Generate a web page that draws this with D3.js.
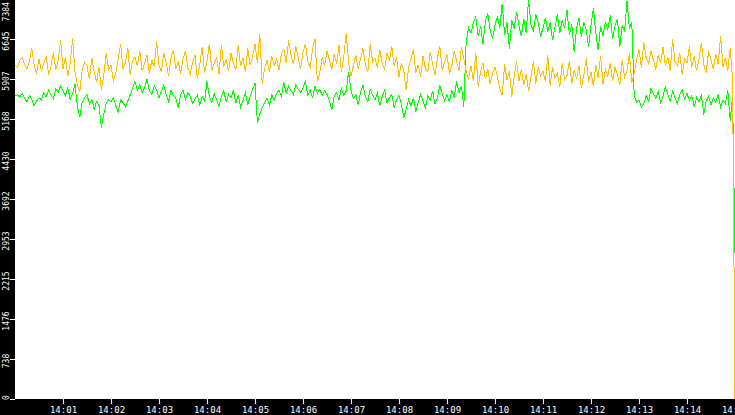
<!DOCTYPE html>
<html>
<head>
<meta charset="utf-8">
<script src="https://cdn.jsdelivr.net/npm/d3@7/dist/d3.min.js"></script>
<style>
  html, body { margin: 0; padding: 0; background: #000; }
  svg { display: block; }
</style>
</head>
<body>
<svg id="chart" width="735" height="415"></svg>
<script>
// ---- data ----
const startTime = "14:00:00";
const endTime = "14:15:00";
const stepSeconds = 3;

const seriesNames = ["green", "orange"];

const orangeValues = [
  6160, 6120, 6250, 6300, 6180, 6090, 6230, 6480, 6150, 6010,
  6280, 6050, 6190, 6330, 5990, 6140, 6400, 6080, 6250, 6620,
  6100, 6310, 5970, 6180, 6660, 6040, 5800, 5670, 6090, 6220,
  6150, 5900, 6300, 6040, 5850, 6120, 5710, 5980, 6390, 6080,
  6170, 5860, 6020, 6280, 6550, 6100, 6210, 6480, 5990, 6250,
  6310, 6140, 6420, 6050, 6200, 6350, 6000, 6260, 6130, 6600,
  6170, 6040, 6380, 6210, 5960, 6300, 6450, 6090, 6230, 6010,
  6270, 6430, 6110, 5990, 6220, 6350, 5900, 6180, 6500, 6020,
  6240, 6560, 6070, 6190, 6310, 6000, 6540, 6130, 6260, 6050,
  6380, 6200, 6080, 6530, 6150, 6290, 6030, 6470, 6170, 6320,
  6560, 6210, 6740, 5820, 6100, 6250, 6040, 6330, 6150, 6280,
  6070, 6390, 6460, 6200, 6620, 6350, 6180, 6510, 6290, 6090,
  6400, 6560, 6230, 6120, 6470, 6650, 5850, 6020, 6310, 6150,
  6420, 6260, 6080, 6370, 6190, 6530, 6040, 6320, 6760, 6210,
  5960, 6150, 6350, 6090, 6280, 6470, 6170, 6030, 6560, 6230,
  6300, 6120, 6450, 6200, 6080, 6380, 6250, 6510, 6140, 6310,
  5940, 6200, 6060, 5700, 6120, 6280, 6460, 6020, 6170, 5950,
  6330, 6100, 6040, 6410, 6190, 5980, 6280, 6520, 6070, 6220,
  6360, 6010, 6150, 6430, 6240, 6060, 6490, 6280, 6050, 5920,
  6150, 5870, 6380, 5760, 6040, 6210, 5900, 6090, 5810, 6020,
  6120, 5950, 5730, 5610, 6180, 5890, 6050, 5580, 5960, 6230,
  5870, 6090, 5790, 6000, 5680, 5940, 6240, 5820, 6120, 5960,
  6050, 5850, 6350, 5780, 6130, 5920, 6010, 5760, 6200, 5890,
  5970, 6240, 5820, 6080, 5910, 6150, 5740, 5980, 6290, 5860,
  6040, 5780, 6170, 5930, 6330, 5820, 6080, 5960, 6210, 5870,
  6120, 5990, 5800, 6260, 5940, 6050, 6390, 5830, 6010, 6270,
  6450, 6120, 6580, 6300, 6190, 6420, 6260, 6080, 6350, 6200,
  6500, 6140, 6310, 6060, 6640, 6230, 6150, 6380, 5990, 6280,
  6200, 6510, 6120, 6330, 6050, 6270, 6590, 6170, 6020, 6420,
  6260, 6090, 6370, 6180, 6700, 6130, 6300, 6050, 6480, 5900,
  0
];

const greenValues = [
  5590, 5620, 5570, 5640, 5550, 5480, 5600, 5530, 5410, 5500,
  5560, 5520, 5650, 5580, 5700, 5610, 5540, 5720, 5660, 5780,
  5690, 5600, 5750, 5530, 5640, 5810, 5390, 5210, 5480, 5560,
  5620, 5450, 5530, 5350, 5490, 5420, 5010, 5260, 5460, 5530,
  5480, 5560, 5410, 5300, 5520, 5470, 5390, 5500, 5610, 5740,
  5860, 5700, 5810, 5650, 5760, 5900, 5690, 5620, 5780, 5710,
  5550, 5680, 5800, 5620, 5490, 5710, 5600, 5560, 5370, 5620,
  5700, 5520, 5650, 5590, 5460, 5540, 5610, 5430, 5580, 5500,
  5860, 5580, 5470, 5640, 5520, 5400, 5590, 5690, 5480, 5630,
  5550, 5700, 5460, 5610, 5390, 5520, 5650, 5440, 5580, 5720,
  5830, 5100, 5260, 5380, 5470, 5550, 5420, 5610, 5520, 5640,
  5700, 5590, 5850, 5650, 5780, 5690, 5620, 5800, 5720, 5660,
  5740, 5860, 5610, 5700, 5550, 5780, 5650, 5720, 5600, 5690,
  5620, 5500, 5340, 5590, 5660, 5520, 5730, 5610, 5680, 6040,
  5700, 5550, 5620, 5430, 5660, 5800, 5580, 5490, 5720, 5610,
  5520, 5650, 5410, 5580, 5700, 5470, 5560, 5620, 5380, 5530,
  5600, 5440, 5190, 5350, 5520, 5410, 5560, 5300, 5470, 5620,
  5500, 5380, 5600, 5520, 5680, 5450, 5560, 5790, 5640, 5500,
  5620, 5480, 5700, 5560, 5860, 5650, 5780, 5400, 6600, 6850,
  6750, 6950, 7050, 6700, 6880, 6550, 6980, 7120, 6800, 6650,
  6900, 7060, 6850, 7300, 6720, 6950, 6470, 7000, 6830, 7150,
  6880, 6700, 7020, 6760, 7384, 6900, 6800, 7100, 6950, 6690,
  6850, 7040, 6780, 6950, 6620, 6870, 7100, 6760, 6990, 6850,
  7180, 6720, 6920, 6400, 6850, 7030, 6680, 6950, 6820, 6500,
  6900, 7220, 6760, 6440, 6880, 6700, 6960, 6820, 7080, 6650,
  6880, 7020, 6500, 6900, 6780, 7350, 6850, 6950, 5600, 5480,
  5520, 5390, 5450, 5600, 5500, 5730, 5640, 5550, 5680, 5470,
  5590, 5760, 5620, 5500, 5680, 5560, 5450, 5620, 5700, 5540,
  5640, 5510, 5600, 5390, 5570, 5480, 5620, 5250, 5500, 5590,
  5430, 5560, 5480, 5620, 5380, 5510, 5450, 5700, 5140, 5600,
  2700
];

const yMax = 7384;
const yTickLabels = ["0", "738", "1476", "2215", "2953", "3692", "4430", "5168", "5907", "6645", "7384"];
const xTickFormat = "%H:%M";

const colors = { green: "#00ff00", orange: "#ffc000" };

// ---- layout ----
const W = 735, H = 415;
const plotLeft = 15, plotBottom = 399, plotTop = -1, plotRight = 735;

const parse = d3.timeParse("%H:%M:%S");
const t0 = parse(startTime), t1 = parse(endTime);
const times = greenValues.map((_, i) => new Date(t0.getTime() + i * stepSeconds * 1000));

const x = d3.scaleTime().domain([t0, t1]).range([plotLeft, plotRight]);
const y = d3.scaleLinear().domain([0, yMax]).range([plotBottom, plotTop]);

const svg = d3.select("#chart");
svg.append("rect").attr("x", 0).attr("y", 0).attr("width", W).attr("height", H).attr("fill", "#000");
svg.append("rect").attr("x", plotLeft).attr("y", 0).attr("width", plotRight - plotLeft).attr("height", plotBottom).attr("fill", "#fff");

const line = d3.line().x((d, i) => x(times[i])).y(d => y(d));

const dataBySeries = { green: greenValues, orange: orangeValues };
seriesNames.forEach(name => {
  svg.append("path")
    .datum(dataBySeries[name])
    .attr("d", line)
    .attr("fill", "none")
    .attr("stroke", colors[name])
    .attr("stroke-width", 1)
    .attr("shape-rendering", "crispEdges");
});

// x axis
const xAxis = d3.axisBottom(x)
  .ticks(d3.timeMinute.every(1))
  .tickFormat(d3.timeFormat(xTickFormat))
  .tickSize(5)
  .tickSizeOuter(0);
const gx = svg.append("g").attr("transform", `translate(0,${plotBottom})`).call(xAxis);
gx.select(".domain").remove();
gx.selectAll(".tick").filter(d => +d === +t0).remove();
gx.selectAll(".tick line").attr("stroke", "#fff").attr("shape-rendering", "crispEdges");
gx.selectAll(".tick text")
  .attr("fill", "#fff")
  .attr("font-family", "DejaVu Sans Mono")
  .attr("font-size", 9)
  .attr("dy", null)
  .attr("y", 14);

// y axis
const yTickValues = yTickLabels.map((_, i) => yMax * i / (yTickLabels.length - 1));
const gy = svg.append("g");
yTickValues.forEach((v, i) => {
  const yy = Math.round(y(v));
  gy.append("line")
    .attr("x1", 10).attr("x2", plotLeft)
    .attr("y1", yy + 0.5).attr("y2", yy + 0.5)
    .attr("stroke", "#fff")
    .attr("shape-rendering", "crispEdges");
  let anchor = "middle", ty = yy + 2;
  if (i === 0) { anchor = "start"; ty = 400; }
  if (i === yTickValues.length - 1) { anchor = "end"; ty = 2; }
  gy.append("text")
    .attr("transform", `translate(9,${ty}) rotate(-90) scale(0.9,1)`)
    .attr("text-anchor", anchor)
    .attr("fill", "#fff")
    .attr("font-family", "DejaVu Sans Mono")
    .attr("font-size", 9)
    .text(yTickLabels[i]);
});
</script>
</body>
</html>
